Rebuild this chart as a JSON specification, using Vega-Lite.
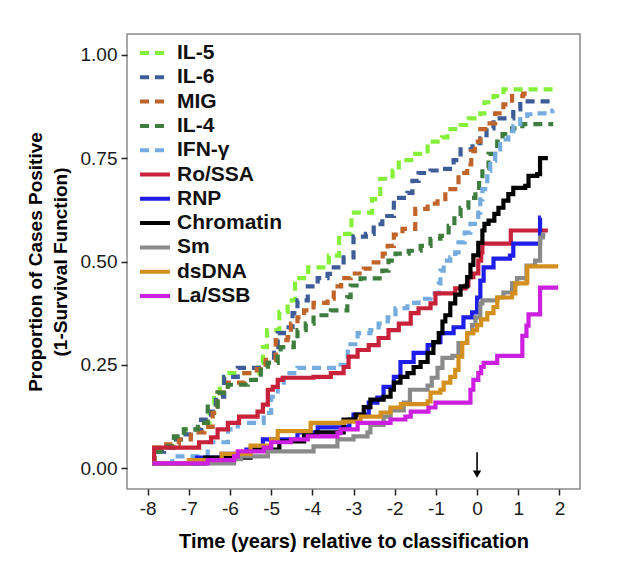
{
  "$schema": "https://vega.github.io/schema/vega-lite/v6.json",
  "width": 453,
  "height": 455,
  "autosize": "none",
  "padding": {"left": 127, "top": 34, "right": 47, "bottom": 82},
  "config": {
    "font": "Liberation Sans",
    "view": {"stroke": "#8a8a8a", "strokeWidth": 1.5}
  },
  "datasets": {
    "curves": [
      {"s":"IL-5","x":-7.88,"y":0.012},{"s":"IL-5","x":-7.84,"y":0.05},{"s":"IL-5","x":-7.4,"y":0.07},{"s":"IL-5","x":-7.1,"y":0.094},{"s":"IL-5","x":-6.7,"y":0.1},{"s":"IL-5","x":-6.5,"y":0.134},{"s":"IL-5","x":-6.38,"y":0.17},{"s":"IL-5","x":-6.25,"y":0.2},{"s":"IL-5","x":-6.15,"y":0.23},{"s":"IL-5","x":-5.3,"y":0.255},{"s":"IL-5","x":-5.2,"y":0.293},{"s":"IL-5","x":-5.1,"y":0.334},{"s":"IL-5","x":-4.8,"y":0.378},{"s":"IL-5","x":-4.6,"y":0.406},{"s":"IL-5","x":-4.42,"y":0.46},{"s":"IL-5","x":-4.1,"y":0.486},{"s":"IL-5","x":-3.6,"y":0.514},{"s":"IL-5","x":-3.35,"y":0.567},{"s":"IL-5","x":-3.05,"y":0.618},{"s":"IL-5","x":-2.55,"y":0.651},{"s":"IL-5","x":-2.35,"y":0.7},{"s":"IL-5","x":-2.05,"y":0.72},{"s":"IL-5","x":-1.9,"y":0.745},{"s":"IL-5","x":-1.6,"y":0.76},{"s":"IL-5","x":-1.2,"y":0.79},{"s":"IL-5","x":-0.85,"y":0.8},{"s":"IL-5","x":-0.72,"y":0.82},{"s":"IL-5","x":-0.4,"y":0.83},{"s":"IL-5","x":-0.2,"y":0.846},{"s":"IL-5","x":0.08,"y":0.858},{"s":"IL-5","x":0.18,"y":0.885},{"s":"IL-5","x":0.4,"y":0.9},{"s":"IL-5","x":0.64,"y":0.916},{"s":"IL-5","x":1.9,"y":0.916},

      {"s":"IL-6","x":-7.88,"y":0.012},{"s":"IL-6","x":-7.84,"y":0.04},{"s":"IL-6","x":-7.6,"y":0.05},{"s":"IL-6","x":-7.36,"y":0.07},{"s":"IL-6","x":-7.19,"y":0.082},{"s":"IL-6","x":-6.95,"y":0.094},{"s":"IL-6","x":-6.7,"y":0.118},{"s":"IL-6","x":-6.46,"y":0.137},{"s":"IL-6","x":-6.34,"y":0.173},{"s":"IL-6","x":-6.14,"y":0.221},{"s":"IL-6","x":-5.81,"y":0.243},{"s":"IL-6","x":-5.13,"y":0.255},{"s":"IL-6","x":-4.93,"y":0.293},{"s":"IL-6","x":-4.84,"y":0.327},{"s":"IL-6","x":-4.69,"y":0.341},{"s":"IL-6","x":-4.48,"y":0.375},{"s":"IL-6","x":-4.36,"y":0.406},{"s":"IL-6","x":-4.11,"y":0.44},{"s":"IL-6","x":-3.87,"y":0.46},{"s":"IL-6","x":-3.63,"y":0.47},{"s":"IL-6","x":-3.48,"y":0.486},{"s":"IL-6","x":-3.24,"y":0.51},{"s":"IL-6","x":-3.0,"y":0.56},{"s":"IL-6","x":-2.7,"y":0.567},{"s":"IL-6","x":-2.51,"y":0.59},{"s":"IL-6","x":-2.3,"y":0.61},{"s":"IL-6","x":-2.02,"y":0.654},{"s":"IL-6","x":-1.69,"y":0.666},{"s":"IL-6","x":-1.57,"y":0.695},{"s":"IL-6","x":-1.42,"y":0.714},{"s":"IL-6","x":-1.13,"y":0.72},{"s":"IL-6","x":-0.89,"y":0.724},{"s":"IL-6","x":-0.57,"y":0.745},{"s":"IL-6","x":-0.4,"y":0.771},{"s":"IL-6","x":-0.11,"y":0.786},{"s":"IL-6","x":0.08,"y":0.798},{"s":"IL-6","x":0.23,"y":0.822},{"s":"IL-6","x":0.4,"y":0.846},{"s":"IL-6","x":0.88,"y":0.868},{"s":"IL-6","x":1.05,"y":0.887},{"s":"IL-6","x":1.85,"y":0.887},

      {"s":"MIG","x":-7.88,"y":0.012},{"s":"MIG","x":-7.84,"y":0.045},{"s":"MIG","x":-7.55,"y":0.058},{"s":"MIG","x":-7.24,"y":0.07},{"s":"MIG","x":-6.95,"y":0.087},{"s":"MIG","x":-6.62,"y":0.1},{"s":"MIG","x":-6.42,"y":0.134},{"s":"MIG","x":-6.3,"y":0.183},{"s":"MIG","x":-6.05,"y":0.207},{"s":"MIG","x":-5.65,"y":0.23},{"s":"MIG","x":-5.35,"y":0.24},{"s":"MIG","x":-5.13,"y":0.262},{"s":"MIG","x":-4.89,"y":0.31},{"s":"MIG","x":-4.6,"y":0.317},{"s":"MIG","x":-4.52,"y":0.35},{"s":"MIG","x":-4.36,"y":0.365},{"s":"MIG","x":-4.2,"y":0.382},{"s":"MIG","x":-3.97,"y":0.4},{"s":"MIG","x":-3.63,"y":0.41},{"s":"MIG","x":-3.48,"y":0.44},{"s":"MIG","x":-3.3,"y":0.46},{"s":"MIG","x":-3.07,"y":0.471},{"s":"MIG","x":-2.75,"y":0.483},{"s":"MIG","x":-2.51,"y":0.498},{"s":"MIG","x":-2.29,"y":0.519},{"s":"MIG","x":-2.17,"y":0.538},{"s":"MIG","x":-2.02,"y":0.565},{"s":"MIG","x":-1.81,"y":0.579},{"s":"MIG","x":-1.5,"y":0.627},{"s":"MIG","x":-1.2,"y":0.64},{"s":"MIG","x":-0.96,"y":0.651},{"s":"MIG","x":-0.77,"y":0.675},{"s":"MIG","x":-0.53,"y":0.685},{"s":"MIG","x":-0.45,"y":0.714},{"s":"MIG","x":-0.24,"y":0.735},{"s":"MIG","x":-0.14,"y":0.767},{"s":"MIG","x":-0.05,"y":0.79},{"s":"MIG","x":0.08,"y":0.82},{"s":"MIG","x":0.25,"y":0.834},{"s":"MIG","x":0.44,"y":0.858},{"s":"MIG","x":0.64,"y":0.88},{"s":"MIG","x":0.85,"y":0.9},{"s":"MIG","x":1.12,"y":0.906},{"s":"MIG","x":1.25,"y":0.906},

      {"s":"IL-4","x":-7.88,"y":0.012},{"s":"IL-4","x":-7.84,"y":0.04},{"s":"IL-4","x":-7.68,"y":0.053},{"s":"IL-4","x":-7.36,"y":0.077},{"s":"IL-4","x":-7.12,"y":0.094},{"s":"IL-4","x":-6.78,"y":0.11},{"s":"IL-4","x":-6.54,"y":0.149},{"s":"IL-4","x":-6.3,"y":0.183},{"s":"IL-4","x":-6.05,"y":0.202},{"s":"IL-4","x":-5.57,"y":0.214},{"s":"IL-4","x":-5.25,"y":0.238},{"s":"IL-4","x":-5.08,"y":0.255},{"s":"IL-4","x":-4.84,"y":0.27},{"s":"IL-4","x":-4.77,"y":0.293},{"s":"IL-4","x":-4.45,"y":0.31},{"s":"IL-4","x":-4.36,"y":0.334},{"s":"IL-4","x":-4.16,"y":0.35},{"s":"IL-4","x":-3.97,"y":0.37},{"s":"IL-4","x":-3.55,"y":0.382},{"s":"IL-4","x":-3.15,"y":0.414},{"s":"IL-4","x":-3.07,"y":0.442},{"s":"IL-4","x":-2.83,"y":0.459},{"s":"IL-4","x":-2.3,"y":0.478},{"s":"IL-4","x":-2.15,"y":0.502},{"s":"IL-4","x":-1.98,"y":0.519},{"s":"IL-4","x":-1.66,"y":0.526},{"s":"IL-4","x":-1.37,"y":0.538},{"s":"IL-4","x":-1.13,"y":0.555},{"s":"IL-4","x":-0.89,"y":0.562},{"s":"IL-4","x":-0.69,"y":0.586},{"s":"IL-4","x":-0.55,"y":0.61},{"s":"IL-4","x":-0.4,"y":0.63},{"s":"IL-4","x":-0.21,"y":0.654},{"s":"IL-4","x":-0.04,"y":0.678},{"s":"IL-4","x":0.05,"y":0.7},{"s":"IL-4","x":0.13,"y":0.726},{"s":"IL-4","x":0.28,"y":0.76},{"s":"IL-4","x":0.49,"y":0.79},{"s":"IL-4","x":0.62,"y":0.808},{"s":"IL-4","x":0.85,"y":0.822},{"s":"IL-4","x":1.1,"y":0.832},{"s":"IL-4","x":1.85,"y":0.832},

      {"s":"IFN-γ","x":-7.88,"y":0.012},{"s":"IFN-γ","x":-7.4,"y":0.029},{"s":"IFN-γ","x":-6.54,"y":0.063},{"s":"IFN-γ","x":-6.05,"y":0.094},{"s":"IFN-γ","x":-5.81,"y":0.11},{"s":"IFN-γ","x":-5.18,"y":0.134},{"s":"IFN-γ","x":-5.0,"y":0.173},{"s":"IFN-γ","x":-4.84,"y":0.197},{"s":"IFN-γ","x":-4.69,"y":0.23},{"s":"IFN-γ","x":-4.36,"y":0.243},{"s":"IFN-γ","x":-3.31,"y":0.25},{"s":"IFN-γ","x":-3.14,"y":0.3},{"s":"IFN-γ","x":-2.9,"y":0.327},{"s":"IFN-γ","x":-2.59,"y":0.334},{"s":"IFN-γ","x":-2.39,"y":0.35},{"s":"IFN-γ","x":-2.17,"y":0.365},{"s":"IFN-γ","x":-1.98,"y":0.387},{"s":"IFN-γ","x":-1.69,"y":0.4},{"s":"IFN-γ","x":-1.42,"y":0.41},{"s":"IFN-γ","x":-1.13,"y":0.423},{"s":"IFN-γ","x":-0.93,"y":0.447},{"s":"IFN-γ","x":-0.89,"y":0.478},{"s":"IFN-γ","x":-0.81,"y":0.502},{"s":"IFN-γ","x":-0.65,"y":0.51},{"s":"IFN-γ","x":-0.53,"y":0.522},{"s":"IFN-γ","x":-0.45,"y":0.546},{"s":"IFN-γ","x":-0.3,"y":0.57},{"s":"IFN-γ","x":-0.16,"y":0.591},{"s":"IFN-γ","x":0.03,"y":0.618},{"s":"IFN-γ","x":0.08,"y":0.65},{"s":"IFN-γ","x":0.13,"y":0.675},{"s":"IFN-γ","x":0.25,"y":0.719},{"s":"IFN-γ","x":0.32,"y":0.743},{"s":"IFN-γ","x":0.44,"y":0.771},{"s":"IFN-γ","x":0.56,"y":0.795},{"s":"IFN-γ","x":0.76,"y":0.815},{"s":"IFN-γ","x":0.88,"y":0.827},{"s":"IFN-γ","x":1.05,"y":0.844},{"s":"IFN-γ","x":1.22,"y":0.856},{"s":"IFN-γ","x":1.46,"y":0.858},{"s":"IFN-γ","x":1.83,"y":0.865},{"s":"IFN-γ","x":1.86,"y":0.865},

      {"s":"Ro/SSA","x":-7.88,"y":0.012},{"s":"Ro/SSA","x":-7.84,"y":0.05},{"s":"Ro/SSA","x":-6.95,"y":0.05},{"s":"Ro/SSA","x":-6.75,"y":0.063},{"s":"Ro/SSA","x":-6.46,"y":0.075},{"s":"Ro/SSA","x":-6.3,"y":0.094},{"s":"Ro/SSA","x":-6.05,"y":0.11},{"s":"Ro/SSA","x":-5.78,"y":0.125},{"s":"Ro/SSA","x":-5.33,"y":0.137},{"s":"Ro/SSA","x":-5.2,"y":0.154},{"s":"Ro/SSA","x":-5.08,"y":0.19},{"s":"Ro/SSA","x":-4.96,"y":0.197},{"s":"Ro/SSA","x":-4.84,"y":0.214},{"s":"Ro/SSA","x":-4.72,"y":0.219},{"s":"Ro/SSA","x":-3.97,"y":0.221},{"s":"Ro/SSA","x":-3.55,"y":0.23},{"s":"Ro/SSA","x":-3.24,"y":0.245},{"s":"Ro/SSA","x":-3.12,"y":0.27},{"s":"Ro/SSA","x":-2.9,"y":0.286},{"s":"Ro/SSA","x":-2.63,"y":0.298},{"s":"Ro/SSA","x":-2.39,"y":0.315},{"s":"Ro/SSA","x":-2.15,"y":0.334},{"s":"Ro/SSA","x":-1.9,"y":0.35},{"s":"Ro/SSA","x":-1.61,"y":0.375},{"s":"Ro/SSA","x":-1.42,"y":0.387},{"s":"Ro/SSA","x":-1.13,"y":0.399},{"s":"Ro/SSA","x":-1.01,"y":0.423},{"s":"Ro/SSA","x":-0.53,"y":0.435},{"s":"Ro/SSA","x":-0.28,"y":0.442},{"s":"Ro/SSA","x":-0.21,"y":0.462},{"s":"Ro/SSA","x":-0.09,"y":0.471},{"s":"Ro/SSA","x":0.03,"y":0.502},{"s":"Ro/SSA","x":0.1,"y":0.522},{"s":"Ro/SSA","x":0.13,"y":0.543},{"s":"Ro/SSA","x":0.82,"y":0.575},{"s":"Ro/SSA","x":1.72,"y":0.575},

      {"s":"RNP","x":-7.88,"y":0.012},{"s":"RNP","x":-6.8,"y":0.026},{"s":"RNP","x":-6.2,"y":0.035},{"s":"RNP","x":-5.6,"y":0.045},{"s":"RNP","x":-5.2,"y":0.07},{"s":"RNP","x":-4.36,"y":0.087},{"s":"RNP","x":-3.87,"y":0.099},{"s":"RNP","x":-3.24,"y":0.1},{"s":"RNP","x":-3.1,"y":0.118},{"s":"RNP","x":-3.0,"y":0.13},{"s":"RNP","x":-2.63,"y":0.159},{"s":"RNP","x":-2.42,"y":0.171},{"s":"RNP","x":-2.27,"y":0.197},{"s":"RNP","x":-2.02,"y":0.221},{"s":"RNP","x":-1.86,"y":0.257},{"s":"RNP","x":-1.54,"y":0.279},{"s":"RNP","x":-1.2,"y":0.298},{"s":"RNP","x":-1.06,"y":0.305},{"s":"RNP","x":-0.89,"y":0.327},{"s":"RNP","x":-0.57,"y":0.341},{"s":"RNP","x":-0.33,"y":0.365},{"s":"RNP","x":-0.12,"y":0.377},{"s":"RNP","x":0.0,"y":0.413},{"s":"RNP","x":0.08,"y":0.454},{"s":"RNP","x":0.16,"y":0.486},{"s":"RNP","x":0.4,"y":0.507},{"s":"RNP","x":0.8,"y":0.514},{"s":"RNP","x":0.88,"y":0.543},{"s":"RNP","x":1.53,"y":0.606},{"s":"RNP","x":1.55,"y":0.606},

      {"s":"Chromatin","x":-7.88,"y":0.012},{"s":"Chromatin","x":-6.6,"y":0.026},{"s":"Chromatin","x":-5.5,"y":0.045},{"s":"Chromatin","x":-4.8,"y":0.065},{"s":"Chromatin","x":-4.2,"y":0.08},{"s":"Chromatin","x":-3.9,"y":0.087},{"s":"Chromatin","x":-3.24,"y":0.118},{"s":"Chromatin","x":-2.95,"y":0.13},{"s":"Chromatin","x":-2.75,"y":0.148},{"s":"Chromatin","x":-2.59,"y":0.166},{"s":"Chromatin","x":-2.27,"y":0.173},{"s":"Chromatin","x":-2.1,"y":0.19},{"s":"Chromatin","x":-2.02,"y":0.207},{"s":"Chromatin","x":-1.86,"y":0.221},{"s":"Chromatin","x":-1.69,"y":0.23},{"s":"Chromatin","x":-1.54,"y":0.245},{"s":"Chromatin","x":-1.37,"y":0.257},{"s":"Chromatin","x":-1.2,"y":0.279},{"s":"Chromatin","x":-1.06,"y":0.305},{"s":"Chromatin","x":-0.93,"y":0.327},{"s":"Chromatin","x":-0.84,"y":0.355},{"s":"Chromatin","x":-0.77,"y":0.37},{"s":"Chromatin","x":-0.65,"y":0.399},{"s":"Chromatin","x":-0.53,"y":0.42},{"s":"Chromatin","x":-0.4,"y":0.44},{"s":"Chromatin","x":-0.24,"y":0.462},{"s":"Chromatin","x":-0.16,"y":0.492},{"s":"Chromatin","x":-0.09,"y":0.515},{"s":"Chromatin","x":0.03,"y":0.545},{"s":"Chromatin","x":0.13,"y":0.575},{"s":"Chromatin","x":0.18,"y":0.591},{"s":"Chromatin","x":0.28,"y":0.599},{"s":"Chromatin","x":0.42,"y":0.615},{"s":"Chromatin","x":0.52,"y":0.63},{"s":"Chromatin","x":0.64,"y":0.647},{"s":"Chromatin","x":0.76,"y":0.663},{"s":"Chromatin","x":0.88,"y":0.678},{"s":"Chromatin","x":1.17,"y":0.683},{"s":"Chromatin","x":1.25,"y":0.707},{"s":"Chromatin","x":1.46,"y":0.711},{"s":"Chromatin","x":1.53,"y":0.75},{"s":"Chromatin","x":1.72,"y":0.75},

      {"s":"Sm","x":-7.88,"y":0.012},{"s":"Sm","x":-5.9,"y":0.022},{"s":"Sm","x":-5.73,"y":0.029},{"s":"Sm","x":-5.08,"y":0.041},{"s":"Sm","x":-3.97,"y":0.053},{"s":"Sm","x":-3.39,"y":0.07},{"s":"Sm","x":-3.0,"y":0.077},{"s":"Sm","x":-2.66,"y":0.087},{"s":"Sm","x":-2.59,"y":0.105},{"s":"Sm","x":-2.27,"y":0.125},{"s":"Sm","x":-2.1,"y":0.14},{"s":"Sm","x":-1.78,"y":0.159},{"s":"Sm","x":-1.63,"y":0.19},{"s":"Sm","x":-1.2,"y":0.2},{"s":"Sm","x":-1.1,"y":0.219},{"s":"Sm","x":-0.96,"y":0.243},{"s":"Sm","x":-0.84,"y":0.267},{"s":"Sm","x":-0.6,"y":0.272},{"s":"Sm","x":-0.45,"y":0.303},{"s":"Sm","x":-0.24,"y":0.327},{"s":"Sm","x":-0.12,"y":0.346},{"s":"Sm","x":-0.04,"y":0.365},{"s":"Sm","x":0.08,"y":0.399},{"s":"Sm","x":0.13,"y":0.406},{"s":"Sm","x":0.49,"y":0.413},{"s":"Sm","x":0.64,"y":0.425},{"s":"Sm","x":0.85,"y":0.447},{"s":"Sm","x":0.97,"y":0.46},{"s":"Sm","x":1.2,"y":0.49},{"s":"Sm","x":1.41,"y":0.502},{"s":"Sm","x":1.53,"y":0.558},{"s":"Sm","x":1.6,"y":0.565},{"s":"Sm","x":1.66,"y":0.565},

      {"s":"dsDNA","x":-7.88,"y":0.012},{"s":"dsDNA","x":-7.0,"y":0.02},{"s":"dsDNA","x":-6.2,"y":0.035},{"s":"dsDNA","x":-5.5,"y":0.055},{"s":"dsDNA","x":-5.0,"y":0.07},{"s":"dsDNA","x":-4.84,"y":0.09},{"s":"dsDNA","x":-4.04,"y":0.11},{"s":"dsDNA","x":-3.24,"y":0.113},{"s":"dsDNA","x":-2.83,"y":0.125},{"s":"dsDNA","x":-2.34,"y":0.135},{"s":"dsDNA","x":-2.1,"y":0.147},{"s":"dsDNA","x":-1.85,"y":0.155},{"s":"dsDNA","x":-1.2,"y":0.162},{"s":"dsDNA","x":-1.13,"y":0.183},{"s":"dsDNA","x":-0.89,"y":0.19},{"s":"dsDNA","x":-0.81,"y":0.207},{"s":"dsDNA","x":-0.65,"y":0.221},{"s":"dsDNA","x":-0.53,"y":0.238},{"s":"dsDNA","x":-0.45,"y":0.27},{"s":"dsDNA","x":-0.36,"y":0.303},{"s":"dsDNA","x":-0.24,"y":0.327},{"s":"dsDNA","x":-0.09,"y":0.334},{"s":"dsDNA","x":0.0,"y":0.346},{"s":"dsDNA","x":0.1,"y":0.36},{"s":"dsDNA","x":0.25,"y":0.375},{"s":"dsDNA","x":0.4,"y":0.39},{"s":"dsDNA","x":0.49,"y":0.413},{"s":"dsDNA","x":0.85,"y":0.423},{"s":"dsDNA","x":0.93,"y":0.447},{"s":"dsDNA","x":1.2,"y":0.45},{"s":"dsDNA","x":1.22,"y":0.488},{"s":"dsDNA","x":1.97,"y":0.488},

      {"s":"La/SSB","x":-7.88,"y":0.012},{"s":"La/SSB","x":-6.54,"y":0.02},{"s":"La/SSB","x":-5.9,"y":0.029},{"s":"La/SSB","x":-5.81,"y":0.041},{"s":"La/SSB","x":-5.18,"y":0.05},{"s":"La/SSB","x":-5.0,"y":0.063},{"s":"La/SSB","x":-4.52,"y":0.07},{"s":"La/SSB","x":-4.11,"y":0.077},{"s":"La/SSB","x":-3.39,"y":0.085},{"s":"La/SSB","x":-3.31,"y":0.094},{"s":"La/SSB","x":-2.9,"y":0.11},{"s":"La/SSB","x":-2.1,"y":0.118},{"s":"La/SSB","x":-1.74,"y":0.125},{"s":"La/SSB","x":-1.61,"y":0.137},{"s":"La/SSB","x":-1.18,"y":0.147},{"s":"La/SSB","x":-1.01,"y":0.159},{"s":"La/SSB","x":-0.24,"y":0.159},{"s":"La/SSB","x":-0.16,"y":0.19},{"s":"La/SSB","x":-0.09,"y":0.214},{"s":"La/SSB","x":0.03,"y":0.23},{"s":"La/SSB","x":0.1,"y":0.245},{"s":"La/SSB","x":0.16,"y":0.255},{"s":"La/SSB","x":0.49,"y":0.272},{"s":"La/SSB","x":1.1,"y":0.32},{"s":"La/SSB","x":1.2,"y":0.345},{"s":"La/SSB","x":1.25,"y":0.372},{"s":"La/SSB","x":1.53,"y":0.437},{"s":"La/SSB","x":1.97,"y":0.437}
    ],
    "arrow": [{"x": 0, "top": 0.039, "bottom": -0.006, "tip": -0.014}]
  },
  "layer": [
    {
      "data": {"name": "curves"},
      "mark": {"type": "line", "interpolate": "step-after", "strokeWidth": 4.2, "strokeCap": "butt", "strokeJoin": "miter"},
      "encoding": {
        "x": {
          "field": "x", "type": "quantitative",
          "scale": {"domain": [-8.5, 2.5], "nice": false, "zero": false},
          "axis": {
            "values": [-8, -7, -6, -5, -4, -3, -2, -1, 0, 1, 2],
            "labelExpr": "toString(datum.value)",
            "grid": false, "domain": false,
            "tickSize": 6, "tickWidth": 1.5, "tickColor": "#222",
            "labelFontSize": 19, "labelColor": "#1a1a1a", "labelPadding": 4, "labelFlush": false,
            "title": "Time (years) relative to classification",
            "titleFontSize": 20, "titleFontWeight": "bold", "titleColor": "#000", "titlePadding": 13
          }
        },
        "y": {
          "field": "y", "type": "quantitative",
          "scale": {"domain": [-0.05, 1.05], "nice": false, "zero": false},
          "axis": {
            "values": [0, 0.25, 0.5, 0.75, 1], "format": ".2f",
            "grid": false, "domain": false,
            "tickSize": 6, "tickWidth": 1.5, "tickColor": "#222",
            "labelFontSize": 19, "labelColor": "#1a1a1a", "labelPadding": 4, "labelFlush": false,
            "title": ["Proportion of Cases Positive", "(1-Survival Function)"],
            "titleFontSize": 19, "titleFontWeight": "bold", "titleColor": "#000", "titlePadding": 10, "titleLineHeight": 25
          }
        },
        "color": {
          "field": "s", "type": "nominal",
          "scale": {
            "domain": ["IL-5", "IL-6", "MIG", "IL-4", "IFN-γ", "Ro/SSA", "RNP", "Chromatin", "Sm", "dsDNA", "La/SSB"],
            "range": ["#84F03A", "#3D5C98", "#C0642A", "#3F7D3F", "#74ACDF", "#C8213A", "#1E1EE8", "#000000", "#8A8A8A", "#D4901E", "#CC1FE0"]
          },
          "legend": {
            "title": null, "orient": "none", "legendX": 16, "legendY": 7,
            "symbolType": "M-1.5,0H1.5", "symbolSize": 400, "symbolStrokeWidth": 4,
            "labelFontSize": 21, "labelFontWeight": "bold", "labelColor": "#111", "labelOffset": 10,
            "rowPadding": 2.3, "padding": 0
          }
        },
        "strokeDash": {
          "field": "s", "type": "nominal",
          "scale": {
            "domain": ["IL-5", "IL-6", "MIG", "IL-4", "IFN-γ", "Ro/SSA", "RNP", "Chromatin", "Sm", "dsDNA", "La/SSB"],
            "range": [[9, 6], [9, 6], [9, 6], [9, 6], [9, 6], [1, 0], [1, 0], [1, 0], [1, 0], [1, 0], [1, 0]]
          },
          "legend": {
            "title": null, "orient": "none", "legendX": 16, "legendY": 7,
            "symbolType": "M-1.5,0H1.5", "symbolSize": 400, "symbolStrokeWidth": 4,
            "labelFontSize": 21, "labelFontWeight": "bold", "labelColor": "#111", "labelOffset": 10,
            "rowPadding": 2.3, "padding": 0
          }
        }
      }
    },
    {
      "data": {"name": "arrow"},
      "mark": {"type": "rule", "color": "#000", "strokeWidth": 1.6},
      "encoding": {
        "x": {"field": "x", "type": "quantitative"},
        "y": {"field": "top", "type": "quantitative"},
        "y2": {"field": "bottom"}
      }
    },
    {
      "data": {"name": "arrow"},
      "mark": {"type": "point", "shape": "triangle-down", "filled": true, "color": "#000", "size": 70, "opacity": 1},
      "encoding": {
        "x": {"field": "x", "type": "quantitative"},
        "y": {"field": "tip", "type": "quantitative"}
      }
    }
  ]
}
